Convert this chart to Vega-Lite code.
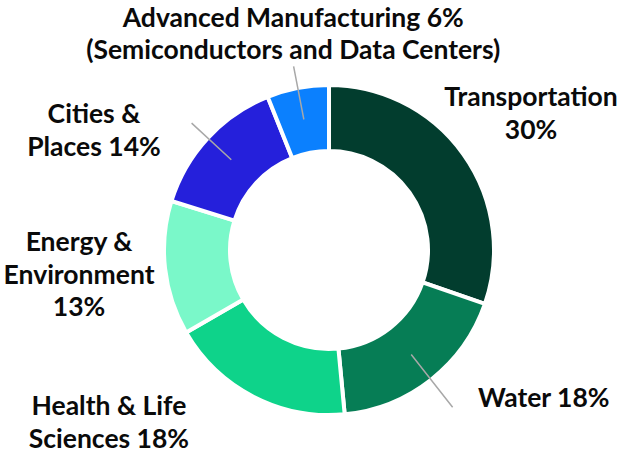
{
  "$schema": "https://vega.github.io/schema/vega-lite/v6.json",
  "width": 590,
  "height": 400,
  "autosize": {"type": "none"},
  "padding": {"left": 34, "top": 50, "right": 0, "bottom": 0},
  "background": "white",
  "view": {"stroke": null},
  "config": {"text": {"font": "Lato", "fontWeight": "bold", "fontSize": 26.5, "lineBreak": "\n", "lineHeight": 32.5, "baseline": "alphabetic", "color": "#0a0a0a"}},
  "data": {
    "values": [
      {"category": "Transportation", "value": 30, "order": 1, "label": "Transportation\n30%"},
      {"category": "Water", "value": 18, "order": 2, "label": "Water 18%"},
      {"category": "Health & Life Sciences", "value": 18, "order": 3, "label": "Health & Life\nSciences 18%"},
      {"category": "Energy & Environment", "value": 13, "order": 4, "label": "Energy &\nEnvironment\n13%"},
      {"category": "Cities & Places", "value": 14, "order": 5, "label": "Cities &\nPlaces 14%"},
      {"category": "Advanced Manufacturing", "value": 6, "order": 6, "label": "Advanced Manufacturing 6%\n(Semiconductors and Data Centers)"}
    ]
  },
  "encoding": {
    "theta": {"field": "value", "type": "quantitative", "stack": true},
    "order": {"field": "order", "type": "quantitative"}
  },
  "layer": [
    {
      "mark": {"type": "arc", "outerRadius": 165, "innerRadius": 99, "stroke": "white", "strokeWidth": 4},
      "encoding": {
        "color": {
          "field": "category",
          "type": "nominal",
          "legend": null,
          "scale": {
            "domain": ["Transportation", "Water", "Health & Life Sciences", "Energy & Environment", "Cities & Places", "Advanced Manufacturing"],
            "range": ["#023D2E", "#067D55", "#0ED38A", "#7AF8C9", "#2520DB", "#0B80FE"]
          }
        }
      }
    },
    {
      "mark": {"type": "arc", "outerRadius": 187, "innerRadius": 133, "padAngle": 3, "fill": "transparent", "strokeWidth": 1.5},
      "encoding": {
        "stroke": {
          "condition": {"test": "datum.category === 'Advanced Manufacturing' || datum.category === 'Cities & Places'", "value": "#a8a8a8"},
          "value": "transparent"
        }
      }
    },
    {
      "mark": {"type": "arc", "outerRadius": 200, "innerRadius": 133, "padAngle": 3, "fill": "transparent", "strokeWidth": 1.5},
      "encoding": {
        "stroke": {
          "condition": {"test": "datum.category === 'Water'", "value": "#a8a8a8"},
          "value": "transparent"
        }
      }
    },
    {
      "mark": {"type": "text", "align": "center", "radius": 248, "dx": 0, "dy": 0},
      "encoding": {"text": {"condition": {"test": "datum.category === 'Transportation'", "field": "label", "type": "nominal"}, "value": ""}}
    },
    {
      "mark": {"type": "text", "align": "left", "radius": 215, "dx": 16, "dy": -12},
      "encoding": {"text": {"condition": {"test": "datum.category === 'Water'", "field": "label", "type": "nominal"}, "value": ""}}
    },
    {
      "mark": {"type": "text", "align": "center", "radius": 249, "dx": -106, "dy": -56},
      "encoding": {"text": {"condition": {"test": "datum.category === 'Health & Life Sciences'", "field": "label", "type": "nominal"}, "value": ""}}
    },
    {
      "mark": {"type": "text", "align": "center", "radius": 248, "dx": -3.5, "dy": -26},
      "encoding": {"text": {"condition": {"test": "datum.category === 'Energy & Environment'", "field": "label", "type": "nominal"}, "value": ""}}
    },
    {
      "mark": {"type": "text", "align": "center", "radius": 258, "dx": -45.5, "dy": 48.5},
      "encoding": {"text": {"condition": {"test": "datum.category === 'Cities & Places'", "field": "label", "type": "nominal"}, "value": ""}}
    },
    {
      "mark": {"type": "text", "align": "center", "radius": 226, "dx": 7, "dy": -1, "lineHeight": 31.5},
      "encoding": {"text": {"condition": {"test": "datum.category === 'Advanced Manufacturing'", "field": "label", "type": "nominal"}, "value": ""}}
    }
  ]
}
